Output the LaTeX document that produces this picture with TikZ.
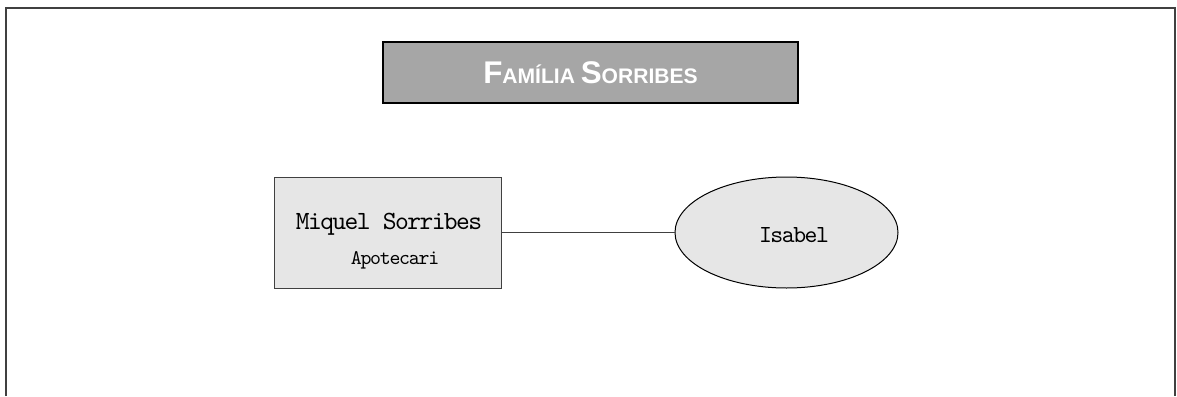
\documentclass[tikz,border=0pt]{standalone}
\usepackage{fontspec}
\setmainfont{Liberation Sans}
\newfontfamily\titlefont{Liberation Sans}
\newfontfamily\courfont{lmmono10-regular.otf}[LetterSpace=-6]
\newcommand{\courtext}[1]{\courfont\fontsize{#1}{#1}\selectfont}
\usetikzlibrary{shapes.geometric}
\definecolor{framegray}{HTML}{404040}
\definecolor{titlefill}{HTML}{A6A6A6}
\definecolor{boxfill}{HTML}{E6E6E6}
\tikzset{
  titlebox/.style={draw=black, line width=1.5pt, fill=titlefill, rectangle, minimum width=311.25pt, minimum height=45.75pt, inner sep=0pt},
  personbox/.style={draw=framegray, line width=0.75pt, fill=boxfill, rectangle, minimum width=170.25pt, minimum height=83.25pt, inner sep=0pt},
  spousebox/.style={draw=black, line width=0.75pt, fill=boxfill, ellipse, minimum width=167.25pt, minimum height=83.25pt, inner sep=0pt},
  txt/.style={inner sep=0pt, anchor=base},
  link/.style={draw=framegray, line width=0.75pt},
}
\begin{document}
\begin{tikzpicture}[x=0.75pt, y=-0.75pt]
\useasboundingbox (0,0) rectangle (1177,396);
\draw[framegray, line width=1.5pt] (6,396) -- (6,8) -- (1175,8) -- (1175,396);
\node[titlebox] (title) at (590.5,72.5) {};
\node[txt, text=white, font=\titlefont\bfseries] (titletxt) at (590.5,83)
  {\fontsize{23.5}{23.5}\selectfont F\fontsize{15.8}{15.8}\selectfont AMÍLIA \fontsize{23.5}{23.5}\selectfont S\fontsize{15.8}{15.8}\selectfont ORRIBES};
\node[personbox] (miquel) at (387.5,232.5) {};
\node[spousebox] (isabel) at (786.5,232.5) {};
\node[txt, font=\courtext{19.7}] (miqname) at (389,229) {Miquel Sorribes};
\node[txt, font=\courtext{15.6}] (miqjob) at (395,264) {Apotecari};
\node[txt, font=\courtext{18.4}] (isaname) at (794,242) {Isabel};
\draw[link] (miquel.east) -- (isabel.west);
\end{tikzpicture}
\end{document}
